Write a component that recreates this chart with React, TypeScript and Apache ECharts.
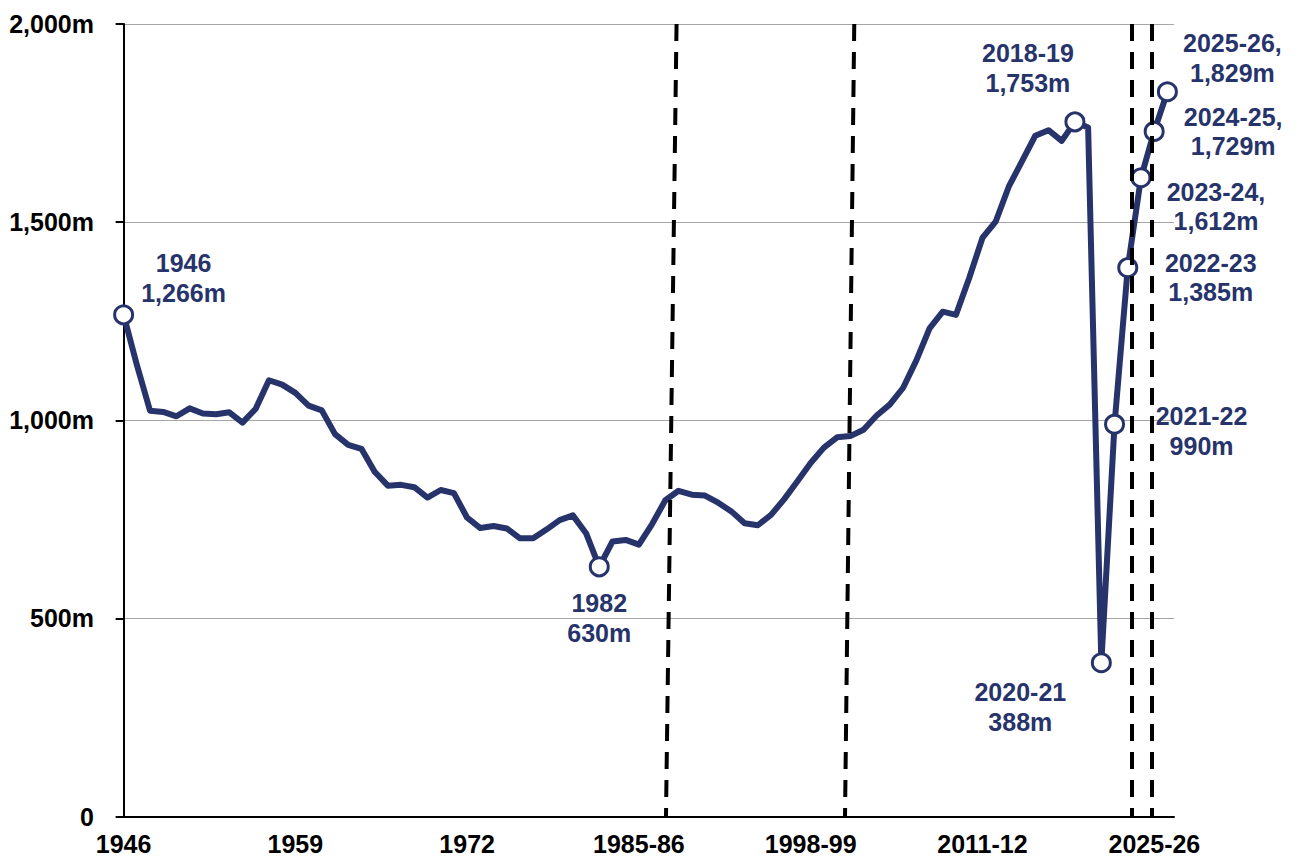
import React, { useEffect, useRef } from 'react';
import * as echarts from 'echarts';

// Calendar years, then financial years
const calendarYears: string[] = [
  '1946', '1947', '1948', '1949', '1950', '1951', '1952', '1953', '1954', '1955',
  '1956', '1957', '1958', '1959', '1960', '1961', '1962', '1963', '1964', '1965',
  '1966', '1967', '1968', '1969', '1970', '1971', '1972', '1973', '1974', '1975',
  '1976', '1977', '1978', '1979', '1980', '1981', '1982', '1983', '1984',
];
const financialYears: string[] = [
  '1985-86', '1986-87', '1987-88', '1988-89', '1989-90', '1990-91', '1991-92', '1992-93', '1993-94', '1994-95',
  '1995-96', '1996-97', '1997-98', '1998-99', '1999-00', '2000-01', '2001-02', '2002-03', '2003-04', '2004-05',
  '2005-06', '2006-07', '2007-08', '2008-09', '2009-10', '2010-11', '2011-12', '2012-13', '2013-14', '2014-15',
  '2015-16', '2016-17', '2017-18', '2018-19', '2019-20', '2020-21', '2021-22', '2022-23', '2023-24', '2024-25',
  '2025-26',
];
const categories: string[] = [...calendarYears, ...financialYears];

// Journeys, millions
const calendarValues: number[] = [
  1266, 1140, 1024, 1021, 1010, 1030, 1017, 1015, 1020, 994,
  1029, 1101, 1090, 1069, 1037, 1025, 965, 938, 928, 870,
  835, 837, 831, 805, 824, 816, 754, 728, 733, 727,
  702, 702, 724, 748, 760, 715, 630, 694, 698,
];
const financialValues: number[] = [
  686, 738, 798, 822, 812, 810, 792, 770, 740, 735,
  761, 801, 846, 892, 931, 957, 960, 976, 1012, 1040,
  1082, 1151, 1232, 1274, 1266, 1359, 1460, 1501, 1590, 1654,
  1718, 1732, 1705, 1753, 1739, 388, 990, 1385, 1612, 1729,
  1829,
];
const values: number[] = [...calendarValues, ...financialValues];

// Tick labels shown on the x axis
const xTickLabels: string[] = ['1946', '1959', '1972', '1985-86', '1998-99', '2011-12', '2025-26'];
const yTicks: number[] = [0, 500, 1000, 1500, 2000];

// Annotated points
const annotated: string[] = ['1946', '1982', '2018-19', '2020-21', '2021-22', '2022-23', '2023-24', '2024-25', '2025-26'];
const annotatedWithComma: string[] = ['2023-24', '2024-25', '2025-26'];

// Series breaks (dashed lines), in category units: [top, bottom]
const breakLines: number[][] = [
  [41.85, 41.05],
  [55.3, 54.6],
  [76.33, 76.33],
  [77.78, 77.78],
];

// ---- styles ----
const NAVY = '#27346b';
const FONT = '"Liberation Sans", Arial, sans-serif';
const FS = 25;
const labelOffsets: Record<string, number[]> = {
  '1946': [60, -37],
  '1982': [0, 51],
  '2018-19': [-47, -54],
  '2020-21': [-81, 44],
  '2021-22': [87, 7],
  '2022-23': [83, 10],
  '2023-24': [75, 29],
  '2024-25': [79, 0],
  '2025-26': [65, -34],
};

const fmt = (v: number) => v.toLocaleString('en-US');

export default function App() {
  const ref = useRef<HTMLDivElement>(null);

  useEffect(() => {
    if (!ref.current) return;
    const chart = echarts.init(ref.current, undefined, { renderer: 'svg' });

    const lastIndex = categories.length - 1;
    const seriesData = categories.map((cat, i) => {
      const v = values[i];
      if (!annotated.includes(cat)) {
        return { value: v, symbol: 'none' };
      }
      const text = `${cat}${annotatedWithComma.includes(cat) ? ',' : ''}\n${fmt(v)}m`;
      return {
        value: v,
        symbol: 'circle',
        label: {
          show: true,
          position: 'inside',
          offset: labelOffsets[cat],
          formatter: text,
          align: 'center',
          verticalAlign: 'middle',
          lineHeight: 29.5,
          fontSize: FS,
          fontWeight: 'bold',
          fontFamily: FONT,
          color: NAVY,
        },
      };
    });

    const option: any = {
      animation: false,
      grid: { left: 117, right: 122, top: 24, bottom: 42.5 },
      xAxis: [
        {
          type: 'category',
          data: categories,
          boundaryGap: true,
          axisLine: { show: true, onZero: false, lineStyle: { color: '#000', width: 2 } },
          axisTick: { show: false },
          splitLine: { show: false },
          axisLabel: {
            interval: (i: number, value: string) =>
              xTickLabels.includes(value) && (i % 13 === 0 || i === lastIndex),
            formatter: (value: string, i: number) => (i === lastIndex ? `{s|${value}}` : value),
            margin: 15,
            fontSize: FS,
            fontWeight: 'bold',
            fontFamily: FONT,
            color: '#000',
            rich: {
              s: {
                padding: [0, 26, 0, 0],
                fontSize: FS,
                fontWeight: 'bold',
                fontFamily: FONT,
                color: '#000',
              },
            },
          },
        },
        { type: 'value', min: -0.5, max: categories.length - 0.5, show: false },
      ],
      yAxis: {
        type: 'value',
        min: yTicks[0],
        max: yTicks[yTicks.length - 1],
        interval: yTicks[1] - yTicks[0],
        axisLine: { show: true, lineStyle: { color: '#000', width: 2 } },
        axisTick: { show: true, length: 8, lineStyle: { color: '#000', width: 2 } },
        splitLine: { show: true, lineStyle: { color: '#a6a6a6', width: 1 } },
        axisLabel: {
          margin: 23,
          formatter: (v: number) => (v === 0 ? '0' : `${fmt(v)}m`),
          fontSize: FS,
          fontWeight: 'bold',
          fontFamily: FONT,
          color: '#000',
        },
      },
      series: [
        {
          type: 'line',
          xAxisIndex: 0,
          yAxisIndex: 0,
          data: seriesData,
          symbol: 'circle',
          symbolSize: 18,
          showSymbol: true,
          showAllSymbol: true,
          itemStyle: { color: '#fff', borderColor: NAVY, borderWidth: 3 },
          lineStyle: { color: NAVY, width: 6, join: 'round', cap: 'round' },
          label: { show: false },
          emphasis: { disabled: true },
          z: 2,
        },
        {
          type: 'line',
          xAxisIndex: 1,
          yAxisIndex: 0,
          data: [],
          silent: true,
          z: 5,
          markLine: {
            silent: true,
            symbol: ['none', 'none'],
            label: { show: false },
            z: 5,
            lineStyle: { color: '#000', width: 4, type: [17, 11] },
            emphasis: { disabled: true },
            data: breakLines.map(([top, bottom]) => [
              { coord: [top, yTicks[yTicks.length - 1]] },
              { coord: [bottom, yTicks[0]] },
            ]),
          },
        },
      ],
    };

    chart.setOption(option);
    return () => chart.dispose();
  }, []);

  return (
    <div
      ref={ref}
      style={{ position: 'absolute', left: 0, top: 0, width: 1296, height: 859, background: '#fff' }}
    />
  );
}
